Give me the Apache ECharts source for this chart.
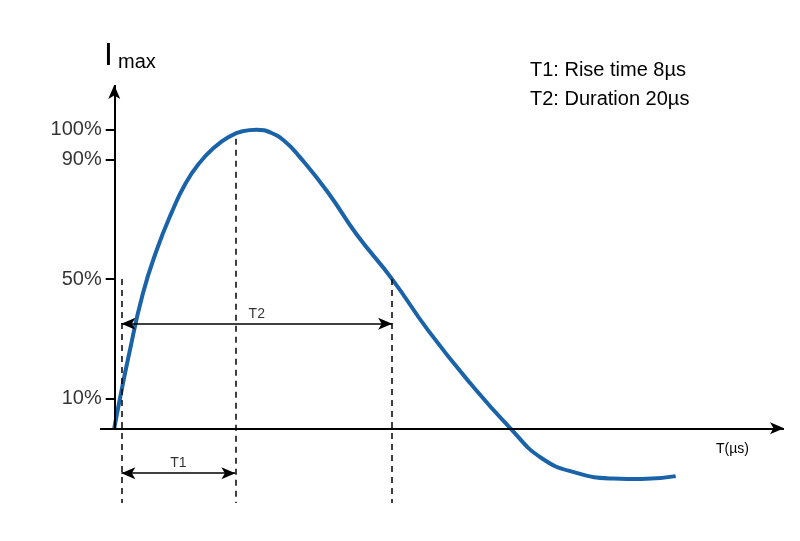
<!DOCTYPE html>
<html><head><meta charset="utf-8">
<script src="https://cdn.jsdelivr.net/npm/echarts@6/dist/echarts.min.js"></script>
<style>html,body{margin:0;background:#fff}#c{width:800px;height:541px}</style>
</head><body><div id="c"></div>
<script>
const timeUs = [0,0.4,1,2,3,4,5,6,7,8,9,10,11,12,13,15,17,19.5,22,25,27.8,30,32.5,35,37,39.4];
const currentPct = [0,10,24,45,60,72,82,89,94,97.5,99.5,100,99,96,91,79,65,50,33,15,0,-10,-15,-16.8,-17,-16];
const tickValues = [100,90,50,10];
const tickLabels = ['100%','90%','50%','10%'];
const t1Start = 0.5, t1End = 8.5, t2End = 19.5;
const legendLines = ['T1: Rise time 8µs','T2: Duration 20µs'];

const chart = echarts.init(document.getElementById('c'));
const black = '#000';
const seg = (a,b,style,sym) => [{coord:a, symbol:sym?sym[0]:'none', lineStyle:style},{coord:b, symbol:sym?sym[1]:'none'}];
const dashed = {type:[6,5], color:black, width:1.5};
const solid = {type:'solid', color:black, width:2};
const lines = [
  seg([-1,0],[47,0],{type:'solid',color:black,width:2},['none','arrow']),
  seg([0,0],[0,115],{type:'solid',color:black,width:2},['none','arrow']),
  seg([t1Start,50],[t1Start,-25],dashed),
  seg([t1End,97],[t1End,-25],dashed),
  seg([t2End,50],[t2End,-25],dashed),
  seg([t1Start,35],[t2End,35],{type:'solid',color:black,width:1.5},['arrow','arrow']),
  seg([t1Start,-15],[t1End,-15],{type:'solid',color:black,width:1.5},['arrow','arrow'])
].concat(tickValues.map(v => seg([-0.6,v],[0,v],solid)));

chart.setOption({
  animation:false,
  grid:{left:100,right:16,top:85,bottom:38},
  xAxis:{type:'value',min:-1,max:47,show:false},
  yAxis:{type:'value',min:-25,max:115,show:false},
  series:[
    {type:'line',data:timeUs.map((t,i)=>[t,currentPct[i]]),smooth:0.5,symbol:'none',
     lineStyle:{color:'#1b63a9',width:4},
     markLine:{silent:true,symbolSize:[9,14],label:{show:false},data:lines}},
    {type:'scatter',symbolSize:0,data:tickValues.map((v,i)=>({value:[-0.6,v],label:{formatter:tickLabels[i]}})),
     label:{show:true,position:'left',distance:4,color:black,fontSize:20,fontFamily:'Liberation Sans'}},
    {type:'scatter',symbolSize:0,data:[{value:[(t1Start+t2End)/2,35],label:{formatter:'T2'}},{value:[(t1Start+t1End)/2,-15],label:{formatter:'T1'}}],
     label:{show:true,position:'top',distance:3,color:black,fontSize:14,fontFamily:'Liberation Sans'}}
  ],
  graphic:[
    {type:'text',left:104,top:40,style:{text:'I',fontSize:32,fill:black,fontFamily:'Liberation Sans'}},
    {type:'text',left:118,top:52,style:{text:'max',fontSize:20,fill:black,fontFamily:'Liberation Sans'}},
    {type:'text',left:530,top:56,style:{text:legendLines.join('\n'),fontSize:20,lineHeight:29,fill:black,fontFamily:'Liberation Sans'}},
    {type:'text',left:716,top:442,style:{text:'T(µs)',fontSize:14,fill:black,fontFamily:'Liberation Sans'}}
  ]
});
</script></body></html>
